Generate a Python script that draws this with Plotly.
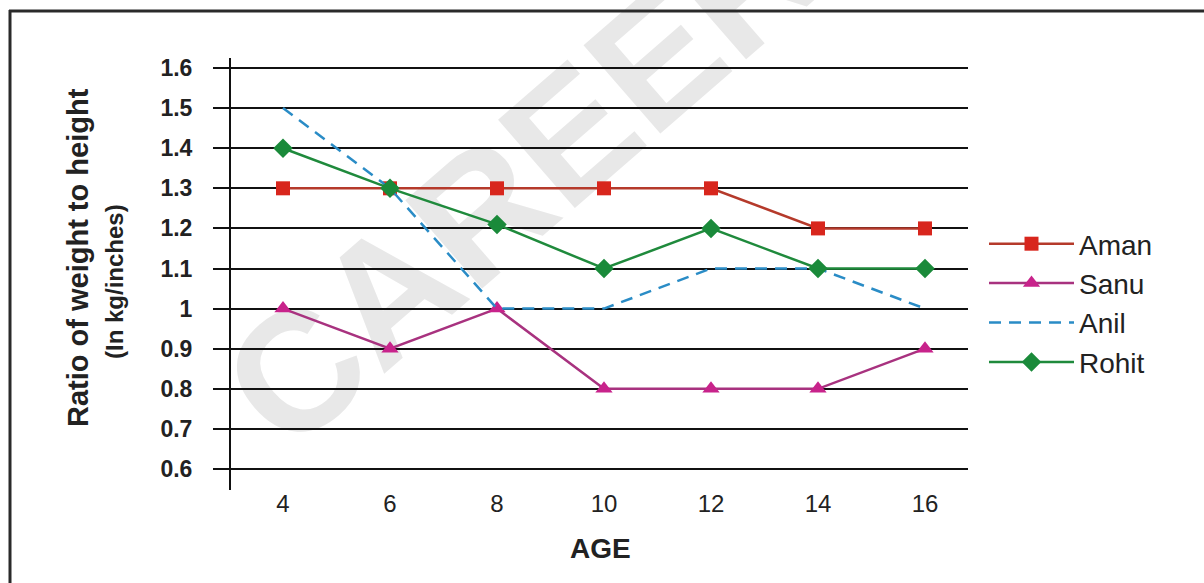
import plotly.graph_objects as go

# Age (years) on the x axis
ages = [4, 6, 8, 10, 12, 14, 16]

# Ratio of weight to height (kg/inches) per child
aman = [1.3, 1.3, 1.3, 1.3, 1.3, 1.2, 1.2]
sanu = [1.0, 0.9, 1.0, 0.8, 0.8, 0.8, 0.9]
anil = [1.5, 1.3, 1.0, 1.0, 1.1, 1.1, 1.0]
rohit = [1.4, 1.3, 1.21, 1.1, 1.2, 1.1, 1.1]

y_ticks = [0.6, 0.7, 0.8, 0.9, 1.0, 1.1, 1.2, 1.3, 1.4, 1.5, 1.6]
y_tick_labels = ["0.6", "0.7", "0.8", "0.9", "1", "1.1", "1.2", "1.3", "1.4", "1.5", "1.6"]

W_PX, H_PX = 1204, 583
L, R, T, B = 231, 236, 58, 93
PW, PH = W_PX - L - R, H_PX - T - B


def px_x(p):
    return (p - L) / PW


def px_y(p):
    return (H_PX - B - p) / PH


FONT = "Liberation Sans, Arial, sans-serif"
TXT = "#222222"

fig = go.Figure()

fig.add_trace(go.Scatter(
    x=ages, y=aman, name="Aman", mode="lines+markers",
    line=dict(color="#b53a2b", width=2.5),
    marker=dict(symbol="square", size=14, color="#d8261d"),
))
fig.add_trace(go.Scatter(
    x=ages, y=sanu, name="Sanu", mode="lines+markers",
    line=dict(color="#a8327f", width=2.5),
    marker=dict(symbol="triangle-up", size=15, color="#c8238b"),
))
fig.add_trace(go.Scatter(
    x=ages, y=anil, name="Anil", mode="lines",
    line=dict(color="#2a8cc6", width=2.5, dash="12px,8px"),
))
fig.add_trace(go.Scatter(
    x=ages, y=rohit, name="Rohit", mode="lines+markers",
    line=dict(color="#1f8a3c", width=2.5),
    marker=dict(symbol="diamond", size=15, color="#1a8a3a"),
))

fig.update_layout(
    width=W_PX, height=H_PX,
    margin=dict(l=L, r=R, t=T, b=B, pad=0),
    paper_bgcolor="white", plot_bgcolor="white",
    font=dict(family=FONT, color=TXT),
    showlegend=True,
    legend=dict(
        x=px_x(984), xanchor="left", y=px_y(303), yanchor="middle",
        font=dict(size=28, family=FONT, color=TXT),
        itemwidth=85, tracegroupgap=5,
        bgcolor="rgba(0,0,0,0)",
    ),
    xaxis=dict(
        range=[3.028, 16.804], tickvals=ages,
        showgrid=False, zeroline=False, showline=False, ticks="",
        tickfont=dict(size=24, family=FONT, color=TXT),
        ticklabelstandoff=-3,
    ),
    yaxis=dict(
        range=[0.5476, 1.625], tickvals=y_ticks, ticktext=y_tick_labels,
        showgrid=True, gridcolor="#111111", gridwidth=2,
        zeroline=False,
        showline=True, linecolor="#111111", linewidth=2,
        ticks="outside", ticklen=16, tickwidth=2, tickcolor="#111111",
        tickfont=dict(size=23, family=FONT, color=TXT, weight="bold"),
        ticklabelstandoff=16,
    ),
    annotations=[
        dict(text="<b>Ratio of weight to height</b>", textangle=-90,
             xref="paper", yref="paper", x=px_x(78), y=px_y(258),
             xanchor="center", yanchor="middle", showarrow=False,
             font=dict(size=29, family=FONT, color=TXT)),
        dict(text="<b>(In kg/inches)</b>", textangle=-90,
             xref="paper", yref="paper", x=px_x(114), y=px_y(282),
             xanchor="center", yanchor="middle", showarrow=False,
             font=dict(size=24, family=FONT, color=TXT)),
        dict(text="<b>AGE</b>",
             xref="paper", yref="paper", x=px_x(600), y=px_y(548),
             xanchor="center", yanchor="middle", showarrow=False,
             font=dict(size=28, family=FONT, color=TXT)),
    ],
    shapes=[
        # watermark behind the grid
        dict(type="rect", xref="paper", yref="paper",
             x0=px_x(460), x1=px_x(560), y0=px_y(215), y1=px_y(115),
             line=dict(width=0), fillcolor="rgba(0,0,0,0)", layer="below",
             label=dict(text="<b>CAREER</b>", textangle=-41,
                        textposition="middle center",
                        font=dict(size=170, family=FONT, color="#e8e8e8"))),
        # frame lines along the top and left edges
        dict(type="line", xref="paper", yref="paper",
             x0=px_x(9), x1=px_x(1204), y0=px_y(11), y1=px_y(11),
             line=dict(color="#2a2a2a", width=3)),
        dict(type="line", xref="paper", yref="paper",
             x0=px_x(10), x1=px_x(10), y0=px_y(10), y1=px_y(583),
             line=dict(color="#2a2a2a", width=3)),
    ],
)

fig.write_html("out.html")
